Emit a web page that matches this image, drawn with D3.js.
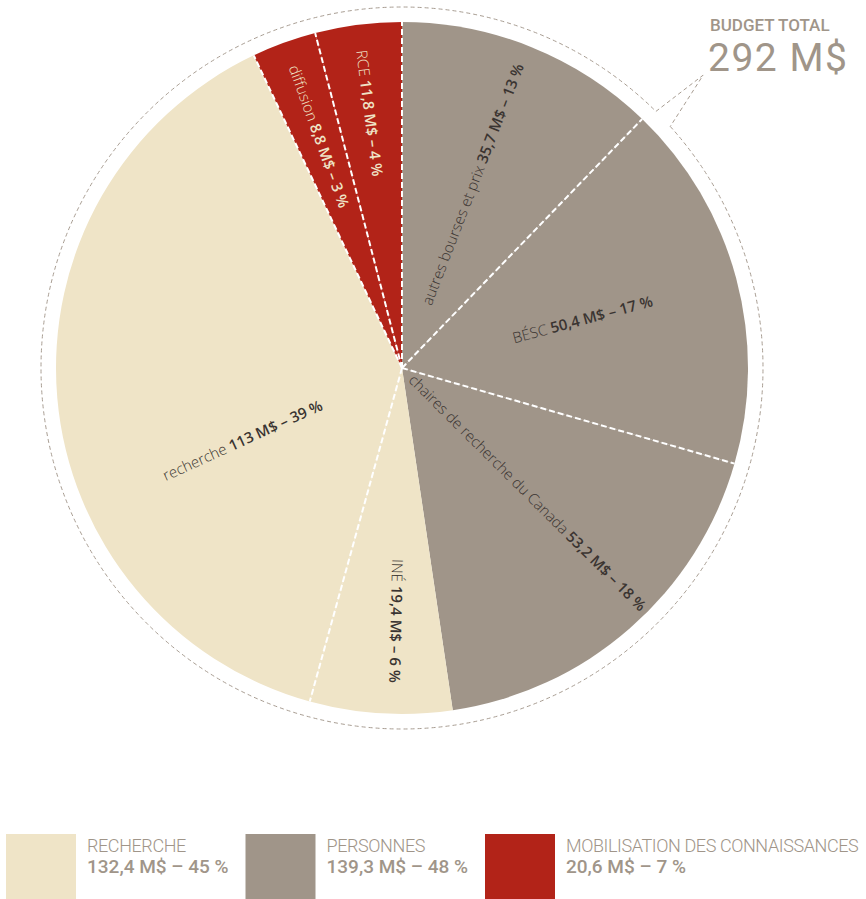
<!DOCTYPE html>
<html>
<head>
<meta charset="utf-8">
<script src="https://cdn.jsdelivr.net/npm/d3@7"></script>
<style>
  html, body { margin: 0; padding: 0; background: #fff; }
  svg { display: block; }
  text { white-space: pre; }
</style>
</head>
<body>
<svg id="chart" width="866" height="899"></svg>
<script>
// Data
const sliceNames = ["autres bourses et prix", "BÉSC", "chaires de recherche du Canada", "INÉ", "recherche", "diffusion", "RCE"];
const sliceAmounts = [35.7, 50.4, 53.2, 19.4, 113, 8.8, 11.8];
const slicePercents = [13, 17, 18, 6, 39, 3, 4];
const sliceGroups = [1, 1, 1, 0, 0, 2, 2];

const groupNames = ["RECHERCHE", "PERSONNES", "MOBILISATION DES CONNAISSANCES"];
const groupAmounts = [132.4, 139.3, 20.6];
const groupPercents = [45, 48, 7];

const budgetLabel = "BUDGET TOTAL";
const budgetTotal = 292;

// Layout / style
const colors = ["#efe4c7", "#a09589", "#b22318"];
const labelOn = ["#3a3431", "#3a3431", "#3a3431", "#3a3431", "#3a3431", "#efe4c7", "#efe4c7"];
// where each label sits: fraction across its slice, radius of its middle
const labelAt = [0.48, 0.5, 0.44, 0.41, 0.36, 0.52, 0.5];
const labelR = [197, 187, 177, 253, 175, 246, 257];
const noSeparator = ["INÉ"];

const cx = 402, cy = 368, R = 346, Rout = 361;
const grey = "#a09589";

const fmt = v => String(v).replace(".", ",");
const valueText = (a, p) => `${fmt(a)} M$ – ${p} %`;

const svg = d3.select("#chart");
const g = svg.append("g").attr("transform", `translate(${cx},${cy})`);

const slices = sliceNames.map((name, i) => ({
  name, amount: sliceAmounts[i], pct: slicePercents[i], group: sliceGroups[i], i
}));

const pie = d3.pie().sort(null).value(d => d.amount);
const arcs = pie(slices);
const arc = d3.arc().innerRadius(0).outerRadius(R);

// slices
g.selectAll("path.slice")
  .data(arcs)
  .join("path")
  .attr("class", "slice")
  .attr("d", arc)
  .attr("fill", d => colors[d.data.group]);

// dashed separators
const polar = (a, r) => [r * Math.sin(a), -r * Math.cos(a)];
g.selectAll("line.sep")
  .data(arcs.filter(d => !noSeparator.includes(d.data.name)))
  .join("line")
  .attr("class", "sep")
  .attr("x1", 0).attr("y1", 0)
  .attr("x2", d => polar(d.startAngle, R)[0])
  .attr("y2", d => polar(d.startAngle, R)[1])
  .attr("stroke", "#fff")
  .attr("stroke-width", 2)
  .attr("stroke-dasharray", "6,3");

// labels
const labels = g.selectAll("text.lbl")
  .data(arcs)
  .join("text")
  .attr("class", "lbl")
  .attr("transform", d => {
    const t = labelAt[d.data.i];
    const a = d.startAngle + (d.endAngle - d.startAngle) * t;
    const deg = a * 180 / Math.PI;
    const [x, y] = polar(a, labelR[d.data.i]);
    const rot = deg < 200 ? deg - 90 : deg - 270;
    return `translate(${x},${y}) rotate(${rot})`;
  })
  .attr("text-anchor", "middle")
  .attr("dy", "0.35em")
  .attr("font-family", "'Open Sans', sans-serif")
  .attr("font-size", 15)
  .attr("fill", d => labelOn[d.data.i]);

labels.append("tspan")
  .attr("font-weight", 300)
  .text(d => d.data.name + " ");
labels.append("tspan")
  .attr("font-weight", 600)
  .text(d => valueText(d.data.amount, d.data.pct));

// outer dashed ring with callout
const a0 = 44.7 * Math.PI / 180, a1 = 48 * Math.PI / 180;
const tipA = 45.8 * Math.PI / 180, tipR = 420;
const ring = d3.path();
const toCanvas = a => a - Math.PI / 2;
const p1 = polar(a1, Rout);
ring.moveTo(p1[0], p1[1]);
ring.arc(0, 0, Rout, toCanvas(a1), toCanvas(a0 + 2 * Math.PI));
const tip = polar(tipA, tipR);
ring.lineTo(tip[0], tip[1]);
ring.lineTo(p1[0], p1[1]);
g.append("path")
  .attr("d", ring.toString())
  .attr("fill", "none")
  .attr("stroke", "#a89d92")
  .attr("stroke-width", 1)
  .attr("stroke-dasharray", "4,3");

// budget total
svg.append("text")
  .attr("x", 710).attr("y", 31)
  .attr("font-family", "Roboto, sans-serif")
  .attr("font-weight", 500)
  .attr("font-size", 17)
  .attr("fill", grey)
  .text(budgetLabel);
svg.append("text")
  .attr("x", 708).attr("y", 71)
  .attr("font-family", "Roboto, sans-serif")
  .attr("font-weight", 400)
  .attr("font-size", 39)
  .attr("letter-spacing", 1.5)
  .attr("fill", grey)
  .text(`${budgetTotal} M$`);

// legend
const legendX = d3.scalePoint().domain(groupNames).range([6, 485]);
const leg = svg.selectAll("g.leg")
  .data(groupNames)
  .join("g")
  .attr("class", "leg")
  .attr("transform", d => `translate(${legendX(d)},834)`);
leg.append("rect")
  .attr("width", 70).attr("height", 70)
  .attr("fill", (d, i) => colors[i]);
leg.append("text")
  .attr("x", 81).attr("y", 18)
  .attr("font-family", "Roboto, sans-serif")
  .attr("font-weight", 300)
  .attr("font-size", 18)
  .attr("letter-spacing", -0.4)
  .attr("fill", grey)
  .text(d => d);
leg.append("text")
  .attr("x", 81).attr("y", 39)
  .attr("font-family", "Roboto, sans-serif")
  .attr("font-weight", 500)
  .attr("font-size", 19)
  .attr("fill", grey)
  .text((d, i) => valueText(groupAmounts[i], groupPercents[i]));
</script>
</body>
</html>
